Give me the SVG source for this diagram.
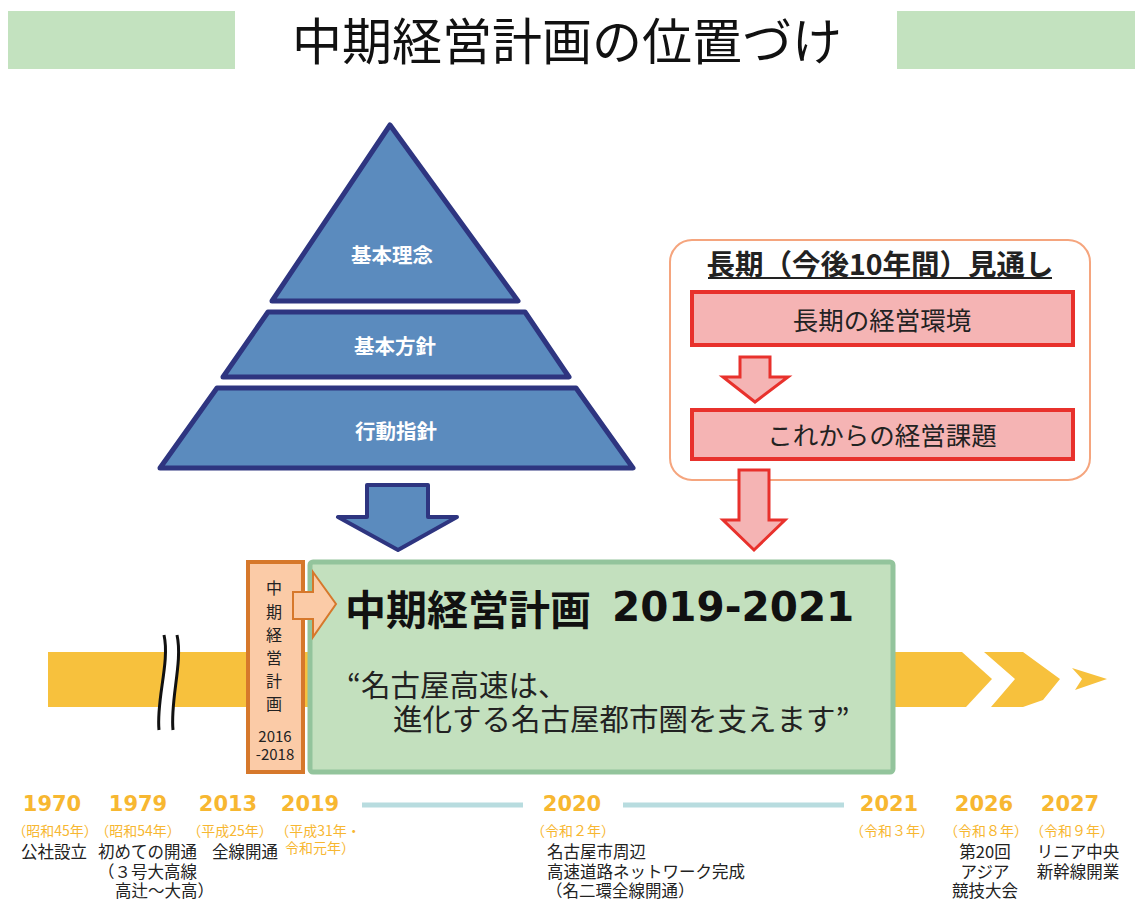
<svg xmlns="http://www.w3.org/2000/svg" width="1135" height="900" viewBox="0 0 1135 900">
<style>
text{font-family:"Noto Sans CJK JP","Noto Sans",sans-serif;dominant-baseline:central}
.pyr{fill:#5B8BBE;stroke:#2E3580;stroke-width:5;stroke-linejoin:round}
.pyrt{fill:#fff;font-size:20.5px;font-weight:bold;text-anchor:middle}
.red{fill:#F5B4B4;stroke:#E8312C;stroke-width:4}
.redt{fill:#222;font-size:25.5px;text-anchor:middle}
.yr{font-family:"DejaVu Sans",sans-serif;font-weight:bold;font-size:21px;fill:#F7B731;text-anchor:middle}
.era{font-size:14px;fill:#F7B731;text-anchor:middle}
.cap{font-size:16.5px;fill:#222}
.mid{text-anchor:middle}
.band{fill:#F7C13D}
.tl{stroke:#B8DCDF;stroke-width:5}
.vt{font-size:16px;fill:#222;text-anchor:middle}
</style>
<g id="title">
<rect x="8" y="11" width="227" height="58" fill="#C3E2BF"/>
<rect x="897" y="11" width="238" height="58" fill="#C3E2BF"/>
<text x="567" y="38" font-size="50" fill="#111" text-anchor="middle">中期経営計画の位置づけ</text>
</g>
<g id="band">
<rect class="band" x="48" y="652" width="850" height="55"/>
<polygon class="band" points="893,652 962,652 992,679 966,707 893,707"/>
<polygon class="band" points="984,652 1023,652 1060,679 1043,700 1023,707 991,707 1015,679"/>
<polygon class="band" points="1072,668 1107,679 1075,690 1082,679"/>
<path d="M164,635 C170,662 156,700 159,730 L173,730 C170,700 183,662 177,635 Z" fill="#fff"/>
<path d="M164,635 C170,662 156,700 159,730 M177,635 C183,662 170,700 173,730" fill="none" stroke="#111" stroke-width="3"/>
</g>
<g id="pyramid-top">
<polygon class="pyr" points="390,125 518,301 272,301"/>
<text class="pyrt" x="392" y="254">基本理念</text>
</g>
<g id="pyramid-mid">
<polygon class="pyr" points="268,312 525,312 569,377 223,377"/>
<text class="pyrt" x="395" y="345">基本方針</text>
</g>
<g id="pyramid-bottom">
<polygon class="pyr" points="217,388 576,388 633,468 160,468"/>
<text class="pyrt" x="396" y="430">行動指針</text>
</g>
<g id="outlook">
<rect x="670" y="240" width="420" height="240" rx="22" fill="#fff" stroke="#F5A57E" stroke-width="2"/>
<text x="880" y="262" font-size="28.5" font-weight="bold" fill="#222" text-anchor="middle">長期（今後10年間）見通し</text>
<line x1="708" y1="278" x2="1052" y2="278" stroke="#222" stroke-width="2"/>
</g>
<g id="env">
<rect class="red" x="692" y="292" width="381" height="53"/>
<text class="redt" x="882" y="318">長期の経営環境</text>
</g>
<g id="issues">
<rect class="red" x="692" y="410" width="381" height="49"/>
<text class="redt" x="882" y="433">これからの経営課題</text>
</g>
<g id="plan-prev">
<rect x="248" y="562" width="55" height="210" fill="#FBCBA7" stroke="#D6782B" stroke-width="4"/>
<text class="vt" x="274" y="587">中</text>
<text class="vt" x="274" y="611">期</text>
<text class="vt" x="274" y="634">経</text>
<text class="vt" x="274" y="657">営</text>
<text class="vt" x="274" y="680">計</text>
<text class="vt" x="274" y="703">画</text>
<text x="275" y="735" font-family="Liberation Sans,sans-serif" font-size="15" fill="#222" text-anchor="middle">2016</text>
<text x="275" y="753" font-family="Liberation Sans,sans-serif" font-size="15" fill="#222" text-anchor="middle">-2018</text>
</g>
<g id="plan-main">
<rect x="310" y="562" width="583" height="210" rx="3" fill="#C3E0BE" stroke="#93C49C" stroke-width="5"/>
<text x="345" y="607" font-size="41" font-weight="bold" fill="#111">中期経営計画<tspan x="612" font-family="DejaVu Sans,sans-serif" font-size="40.5">2019-2021</tspan></text>
<text x="347" y="683" font-size="29.5" fill="#222">“名古屋高速は、</text>
<text x="393" y="717" font-size="29.5" fill="#222">進化する名古屋都市圏を支えます”</text>
</g>
<g id="connectors">
<polygon points="367,485 428,485 428,517 457,517 398,550 338,517 367,517" fill="#5B8BBE" stroke="#2E3580" stroke-width="4" stroke-linejoin="round"/>
<polygon points="740,357 770,357 770,377 788,377 755,402 723,377 740,377" fill="#F5B4B4" stroke="#E8312C" stroke-width="3"/>
<polygon points="739,470 769,470 769,520 785,520 754,550 723,520 739,520" fill="#F5B4B4" stroke="#E8312C" stroke-width="3"/>
<polygon points="293,592 313,592 313,572 336,604 313,637 313,619 293,619" fill="#FBCBA7" stroke="#D6782B" stroke-width="2"/>
</g>
<g id="timeline">
<line class="tl" x1="362" y1="805" x2="523" y2="805"/>
<line class="tl" x1="623" y1="805" x2="844" y2="805"/>
<text class="yr" x="52" y="804">1970</text>
<text class="era" x="55" y="830">（昭和45年）</text>
<text class="cap mid" x="54" y="851">公社設立</text>
<text class="yr" x="138" y="804">1979</text>
<text class="era" x="138" y="830">（昭和54年）</text>
<text class="cap" x="98" y="851">初めての開通</text>
<text class="cap" x="98" y="871">（３号大高線</text>
<text class="cap" x="115" y="890">高辻～大高）</text>
<text class="yr" x="228" y="804">2013</text>
<text class="era" x="230" y="830">（平成25年）</text>
<text class="cap mid" x="245" y="851">全線開通</text>
<text class="yr" x="310" y="804">2019</text>
<text class="era" x="318" y="830">（平成31年・</text>
<text class="era" x="320" y="847">令和元年）</text>
<text class="yr" x="572" y="804">2020</text>
<text class="era" x="573" y="830">（令和２年）</text>
<text class="cap" x="547" y="851">名古屋市周辺</text>
<text class="cap" x="547" y="871">高速道路ネットワーク完成</text>
<text class="cap" x="546" y="890">（名二環全線開通）</text>
<text class="yr" x="889" y="804">2021</text>
<text class="era" x="892" y="830">（令和３年）</text>
<text class="yr" x="984" y="804">2026</text>
<text class="era" x="986" y="830">（令和８年）</text>
<text class="cap mid" x="985" y="851">第20回</text>
<text class="cap mid" x="985" y="871">アジア</text>
<text class="cap mid" x="985" y="890">競技大会</text>
<text class="yr" x="1070" y="804">2027</text>
<text class="era" x="1072" y="830">（令和９年）</text>
<text class="cap mid" x="1078" y="851">リニア中央</text>
<text class="cap mid" x="1078" y="871">新幹線開業</text>
</g>
</svg>
